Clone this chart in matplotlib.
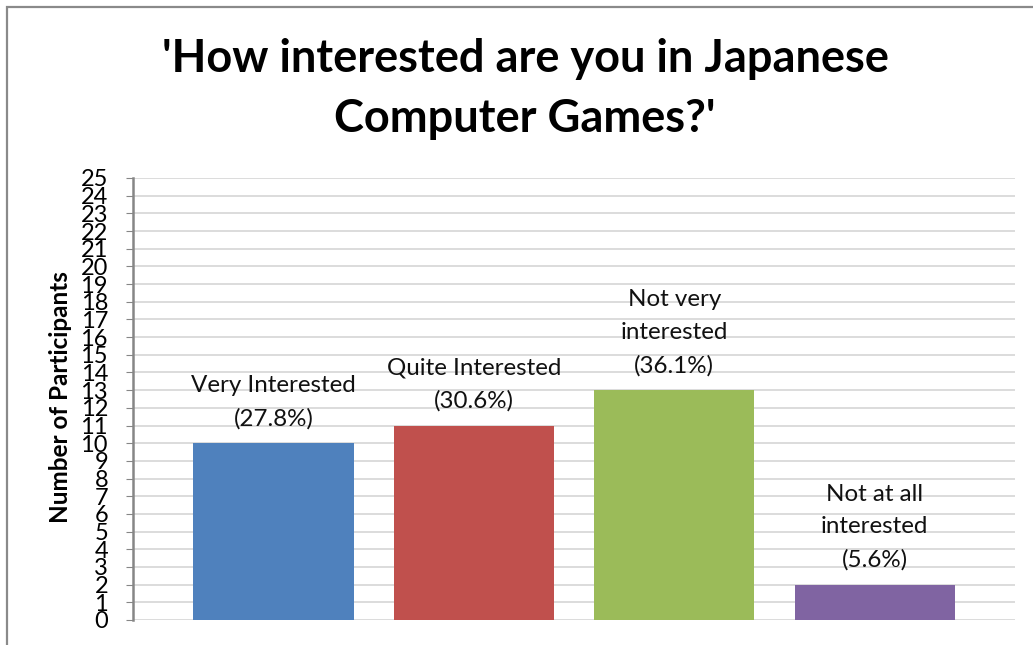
import matplotlib.pyplot as plt
from matplotlib.patches import Rectangle

categories = ['Very Interested', 'Quite Interested', 'Not very\ninterested', 'Not at all\ninterested']
counts = [10, 11, 13, 2]
percents = [27.8, 30.6, 36.1, 5.6]
colors = ['#4F81BD', '#C0504D', '#9BBB59', '#8064A2']
yticks = list(range(0, 26))

plt.rcParams['font.family'] = ['Lato', 'DejaVu Sans']

fig = plt.figure(figsize=(10.33, 6.45), dpi=100)
ax = fig.add_axes([133 / 1033, 1 - 620 / 645, (1015 - 133) / 1033, (620 - 178) / 645])

# chart frame (left and top edges show)
fig.patches.append(Rectangle((7 / 1033, -0.1), 1.2, 1 - 7 / 645 + 0.1,
                             transform=fig.transFigure, fill=False,
                             edgecolor='#8a8a8a', linewidth=1.6))

x = list(range(len(counts)))
ax.bar(x, counts, width=0.8, color=colors, zorder=3)

for xi, c, cat, p in zip(x, counts, categories, percents):
    ax.annotate(f'{cat}\n({p}%)', (xi, c), xytext=(0, 10), textcoords='offset points',
                ha='center', va='bottom', fontsize=17.4, linespacing=1.68, color='#111111')

ax.set_xlim(-0.7, 3.7)
ax.set_ylim(0, 25)
ax.set_yticks(yticks)
ax.set_yticklabels([str(t) for t in yticks], fontsize=17)
ax.set_xticks([])
ax.tick_params(axis='y', length=5, color='#868686', pad=13)
ax.yaxis.grid(True, color='#d9d9d9', linewidth=1.3, zorder=0)
ax.set_axisbelow(True)

for s in ['top', 'right', 'bottom']:
    ax.spines[s].set_visible(False)
ax.spines['left'].set_color('#868686')
ax.spines['left'].set_linewidth(1.8)

ax.set_ylabel('Number of Participants', fontsize=17.5, fontweight='bold')
ax.yaxis.set_label_coords(-0.069, 0.505)

fig.text(525 / 1033, 1 - 89 / 645, "'How interested are you in Japanese\nComputer Games?'",
         ha='center', va='center', fontsize=32.5, fontweight='bold', linespacing=1.55)

fig.savefig('out.png', dpi=100)
